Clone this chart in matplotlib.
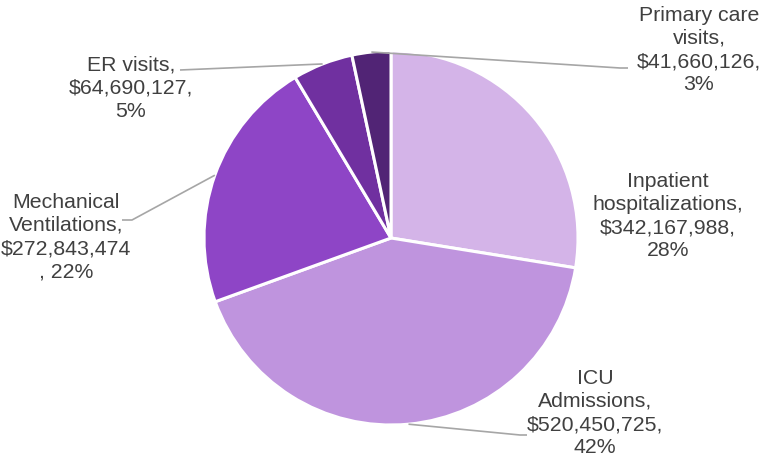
import matplotlib.pyplot as plt
import numpy as np

# data
names = ["Inpatient\nhospitalizations", "ICU\nAdmissions", "Mechanical\nVentilations",
         "ER visits", "Primary care\nvisits"]
costs = [342167988, 520450725, 272843474, 64690127, 41660126]
colors = ["#D4B4E8", "#BF94DE", "#8E45C6", "#7030A0", "#512475"]

# where the labels sit (pixel coords, y from top) and where the leader bends
label_xy = [(668, 216), (595, 413), (66, 237), (131, 88), (699, 50)]
leader_pts = [None, [(520, 435), (527, 435)], [(132, 220), (122, 220)],
              [(180, 70)], [(620, 68), (628, 68)]]

W, H = 761, 458
plt.rcParams['font.family'] = ['Liberation Sans', 'DejaVu Sans']

fig = plt.figure(figsize=(W / 100, H / 100), dpi=100)
ax = fig.add_axes([0, 0, 1, 1])

cx, cy, r = 391, H - 238, 187
wedges, _ = ax.pie(costs, colors=colors, startangle=90, counterclock=False,
                   center=(cx, cy), radius=r,
                   wedgeprops=dict(edgecolor='white', linewidth=2.2))

total = sum(costs)
for i, w in enumerate(wedges):
    pct = round(costs[i] / total * 100)
    if i == 2:
        # excel wrapped this one oddly
        txt = f"{names[i]},\n${costs[i]:,}\n, {pct}%"
    else:
        txt = f"{names[i]},\n${costs[i]:,},\n{pct}%"
    lx, ly = label_xy[i]
    ax.text(lx, H - ly, txt, ha='center', va='center', fontsize=15.3,
            color='#404040', linespacing=1.27)
    if leader_pts[i]:
        mid = np.deg2rad((w.theta1 + w.theta2) / 2)
        xs = [cx + r * np.cos(mid)] + [p[0] for p in leader_pts[i]]
        ys = [cy + r * np.sin(mid)] + [H - p[1] for p in leader_pts[i]]
        ax.plot(xs, ys, color='#A6A6A6', lw=1.2, solid_capstyle='butt')

ax.set_xlim(0, W)
ax.set_ylim(0, H)
ax.set_aspect('equal')
ax.axis('off')

plt.savefig('out.png', dpi=100)
